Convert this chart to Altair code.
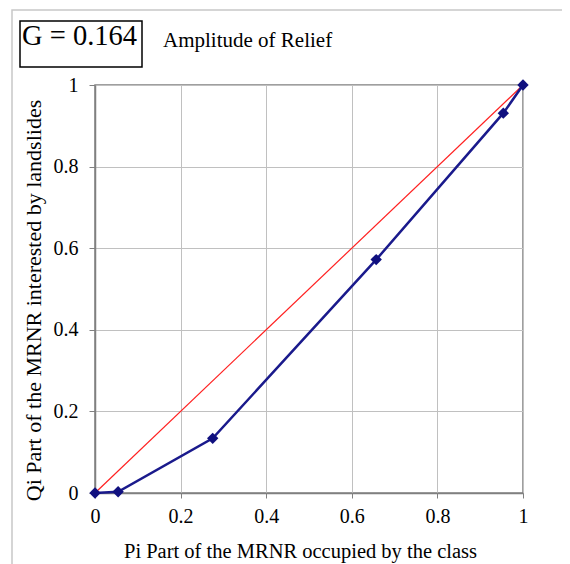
import altair as alt
import pandas as pd

# Lorenz-type curve values (Pi, Qi)
pi_vals = [0, 0.054, 0.275, 0.657, 0.954, 1]
qi_vals = [0, 0.003, 0.134, 0.572, 0.931, 1]
diag_x = [0, 1]
diag_y = [0, 1]
tick_vals = [0, 0.2, 0.4, 0.6, 0.8, 1]
g_label = "G = 0.164"
subtitle = "Amplitude of Relief"
x_title = "Pi Part of the MRNR occupied by the class"
y_title = "Qi Part of the MRNR interested by landslides"

df = pd.DataFrame({"Pi": pi_vals, "Qi": qi_vals})
diag = pd.DataFrame({"Pi": diag_x, "Qi": diag_y})
one = pd.DataFrame({"a": [0]})

SERIF = "Liberation Serif"

xs = alt.Scale(domain=[0, 1], nice=False)
ys = alt.Scale(domain=[0, 1], nice=False)

x_axis = alt.Axis(values=tick_vals, format=".1~f", title=x_title, grid=True, labelFlush=False,
                  gridColor="#c0c0c0", gridWidth=1, domainColor="#808080", domainWidth=1.5,
                  tickColor="#808080", tickSize=5, labelFont=SERIF, labelFontSize=20,
                  labelColor="black", labelPadding=8, titleFont=SERIF, titleFontSize=20.5,
                  titleFontWeight="normal", titleColor="black", titlePadding=15, titleX=205)
y_axis = alt.Axis(values=tick_vals, format=".1~f", title=y_title, grid=True, labelFlush=False,
                  gridColor="#c0c0c0", gridWidth=1, domainColor="#808080", domainWidth=1.5,
                  tickColor="#808080", tickSize=6, labelFont=SERIF, labelFontSize=20,
                  labelColor="black", labelPadding=11, titleFont=SERIF, titleFontSize=22,
                  titleFontWeight="normal", titleColor="black", titlePadding=8, titleY=215)

base_diag = alt.Chart(diag).mark_line(color="#ff2020", strokeWidth=1.2).encode(
    x=alt.X("Pi:Q", scale=xs, axis=x_axis),
    y=alt.Y("Qi:Q", scale=ys, axis=y_axis),
)
curve = alt.Chart(df).mark_line(color="#1a1a8c", strokeWidth=2.5).encode(
    x=alt.X("Pi:Q", scale=xs), y=alt.Y("Qi:Q", scale=ys)
)
pts = alt.Chart(df).mark_point(shape="diamond", filled=True, size=130, color="#10107f", opacity=1).encode(
    x=alt.X("Pi:Q", scale=xs), y=alt.Y("Qi:Q", scale=ys)
)

outer = alt.Chart(one).mark_rect(fillOpacity=0, stroke="#c8c8c8", strokeWidth=1.5).encode(
    x=alt.value(-83), x2=alt.value(520), y=alt.value(-75), y2=alt.value(520)
)
gbox = alt.Chart(one).mark_rect(fill="white", stroke="black", strokeWidth=1.5).encode(
    x=alt.value(-75), x2=alt.value(47), y=alt.value(-64), y2=alt.value(-18)
)
gtext = alt.Chart(one).mark_text(font=SERIF, fontSize=28.5, align="left", baseline="alphabetic", color="black").encode(
    x=alt.value(-73), y=alt.value(-40), text=alt.value(g_label)
)
stext = alt.Chart(one).mark_text(font=SERIF, fontSize=21, align="left", baseline="alphabetic", color="black").encode(
    x=alt.value(68), y=alt.value(-38), text=alt.value(subtitle)
)

chart = alt.layer(outer, base_diag, curve, pts, gbox, gtext, stext).properties(
    width=428, height=408,
    autosize=alt.AutoSizeParams(type="none"),
    padding={"left": 87, "top": 77, "right": 39, "bottom": 71},
    background="white",
).configure_view(stroke="#808080", strokeWidth=1.5)

chart.save("out.html", embed_options={"renderer": "svg", "actions": False})
